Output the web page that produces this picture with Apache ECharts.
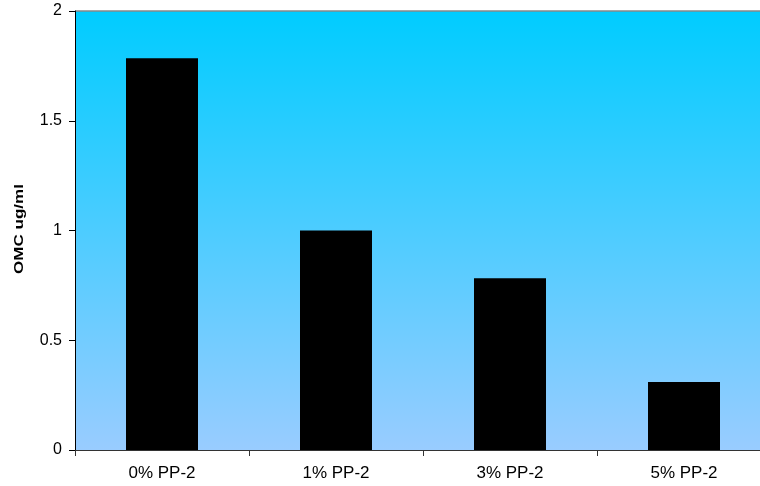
<!DOCTYPE html>
<html>
<head>
<meta charset="utf-8">
<script src="https://cdn.jsdelivr.net/npm/echarts@6/dist/echarts.min.js"></script>
<style>
html,body{margin:0;padding:0;background:#fff;overflow:hidden;width:760px;height:486px;}
#c{width:780px;height:486px;}
</style>
</head>
<body>
<div id="c"></div>
<script>
const categories = ['0% PP-2', '1% PP-2', '3% PP-2', '5% PP-2'];
const omcValues = [1.785, 1.0, 0.783, 0.31];
const yAxisName = 'OMC ug/ml';

const chart = echarts.init(document.getElementById('c'), null, {renderer: 'canvas'});
chart.setOption({
  animation: false,
  backgroundColor: '#ffffff',
  grid: {
    left: 75, top: 11, width: 696, height: 439,
    show: true,
    borderWidth: 0,
    backgroundColor: new echarts.graphic.LinearGradient(0, 0, 0, 1, [
      {offset: 0, color: '#00CCFF'},
      {offset: 1, color: '#99CCFF'}
    ])
  },
  xAxis: {
    type: 'category',
    data: categories,
    boundaryGap: true,
    axisLine: {lineStyle: {color: '#333', width: 1}},
    axisTick: {show: true, length: 6, alignWithLabel: false, lineStyle: {color: '#333'}},
    axisLabel: {color: '#000', fontFamily: 'Liberation Sans, Arial', fontSize: 17, margin: 15},
    splitLine: {show: false}
  },
  yAxis: {
    type: 'value',
    min: 0, max: 2, interval: 0.5,
    axisLine: {show: true, lineStyle: {color: '#000', width: 1}},
    axisTick: {show: true, length: 6, lineStyle: {color: '#000'}},
    axisLabel: {color: '#000', fontFamily: 'Liberation Sans, Arial', fontSize: 16, margin: 13},
    splitLine: {show: false}
  },
  graphic: [{
    type: 'text',
    x: 19.5, y: 229,
    rotation: Math.PI / 2,
    scaleX: 1.42,
    style: {
      text: yAxisName,
      fill: '#000',
      font: 'bold 12px "Liberation Sans", Arial',
      align: 'center',
      verticalAlign: 'middle'
    }
  }, {
    type: 'line',
    shape: {x1: 75, y1: 11, x2: 780, y2: 11},
    style: {stroke: '#888', lineWidth: 1.5}
  }],
  series: [{
    type: 'bar',
    data: omcValues,
    barWidth: 72,
    itemStyle: {color: '#000000'}
  }]
});
</script>
</body>
</html>
